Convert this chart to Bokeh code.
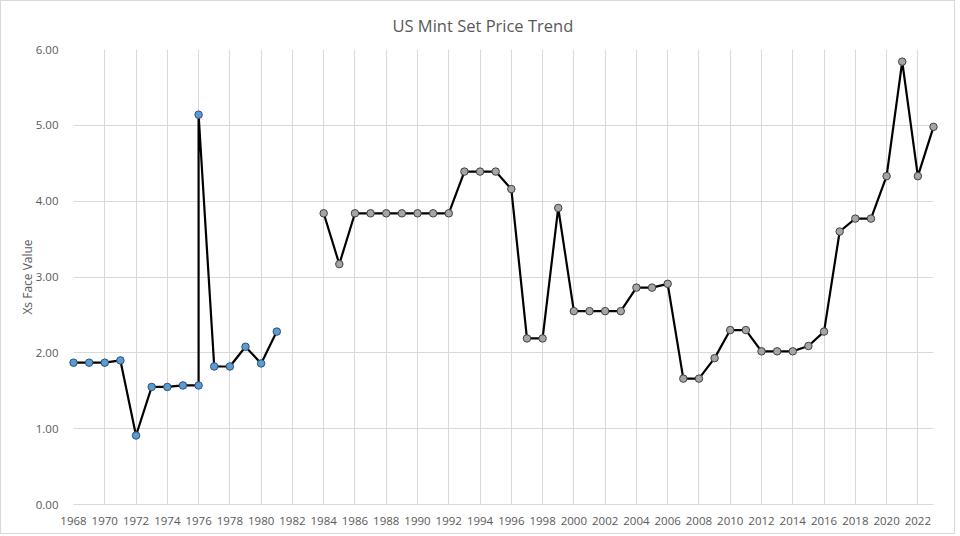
from bokeh.plotting import figure
from bokeh.models import Range1d, FixedTicker, NumeralTickFormatter
from bokeh.embed import file_html
from bokeh.resources import INLINE

title = "US Mint Set Price Trend"
y_label = "Xs Face Value"

years_early = [1968, 1969, 1970, 1971, 1972, 1973, 1974, 1975, 1976, 1976,
               1977, 1978, 1979, 1980, 1981]
values_early = [1.87, 1.87, 1.87, 1.90, 0.91, 1.55, 1.55, 1.57, 1.57, 5.14,
                1.82, 1.82, 2.08, 1.86, 2.28]

years_late = list(range(1984, 2024))
values_late = [3.84, 3.17, 3.84, 3.84, 3.84, 3.84, 3.84, 3.84, 3.84, 4.39,
               4.39, 4.39, 4.16, 2.19, 2.19, 3.91, 2.55, 2.55, 2.55, 2.55,
               2.86, 2.86, 2.91, 1.66, 1.66, 1.93, 2.30, 2.30, 2.02, 2.02,
               2.02, 2.09, 2.28, 3.60, 3.77, 3.77, 4.33, 5.84, 4.33, 4.98]

x_ticks = list(range(1968, 2023, 2))
y_ticks = [0, 1, 2, 3, 4, 5, 6]

FONT = "Open Sans"
TXT = "#595959"
GRID = "#d9d9d9"

p = figure(width=955, height=534, output_backend="svg", toolbar_location=None,
           x_range=Range1d(1968, 2023), y_range=Range1d(0, 6),
           min_border_left=72, min_border_right=23, min_border_top=48,
           min_border_bottom=31)
p.styles = {"border": "1px solid #d9d9d9"}

p.title.text = title
p.title.align = "left"
p.title.text_font = FONT
p.title.text_font_size = "16.5px"
p.title.text_font_style = "normal"
p.title.text_color = TXT
p.title.offset = 319
p.title.standoff = 22
p.title.vertical_align = "top"

p.outline_line_color = None
p.background_fill_color = "white"
p.border_fill_color = "white"

p.xaxis.ticker = FixedTicker(ticks=x_ticks)
p.yaxis.ticker = FixedTicker(ticks=y_ticks)
p.yaxis.formatter = NumeralTickFormatter(format="0.00")
for ax in (p.xaxis, p.yaxis):
    ax.major_tick_line_color = None
    ax.minor_tick_line_color = None
    ax.major_label_text_font = FONT
    ax.major_label_text_font_size = "11.5px"
    ax.major_label_text_color = TXT
p.xaxis.axis_line_color = GRID
p.yaxis.axis_line_color = None
p.xaxis.major_label_standoff = 6
p.yaxis.major_label_standoff = 9
p.yaxis.axis_label = y_label
p.yaxis.axis_label_text_font = FONT
p.yaxis.axis_label_text_font_size = "12px"
p.yaxis.axis_label_text_font_style = "normal"
p.yaxis.axis_label_text_color = TXT
p.yaxis.axis_label_standoff = -3

p.xgrid.grid_line_color = GRID
p.ygrid.grid_line_color = GRID

r1 = p.line(years_early, values_early, line_color="black", line_width=2.2)
r2 = p.scatter(years_early, values_early, size=7.5, fill_color="#5b9bd5",
               line_color="#2f4f6f", line_width=1)
r3 = p.line(years_late, values_late, line_color="black", line_width=2.2)
r4 = p.scatter(years_late, values_late, size=7.5, fill_color="#a5a5a5",
               line_color="#404040", line_width=1)
for r in (r1, r2, r3, r4):
    r.level = "overlay"

open("out.html", "w").write(file_html(p, INLINE))
